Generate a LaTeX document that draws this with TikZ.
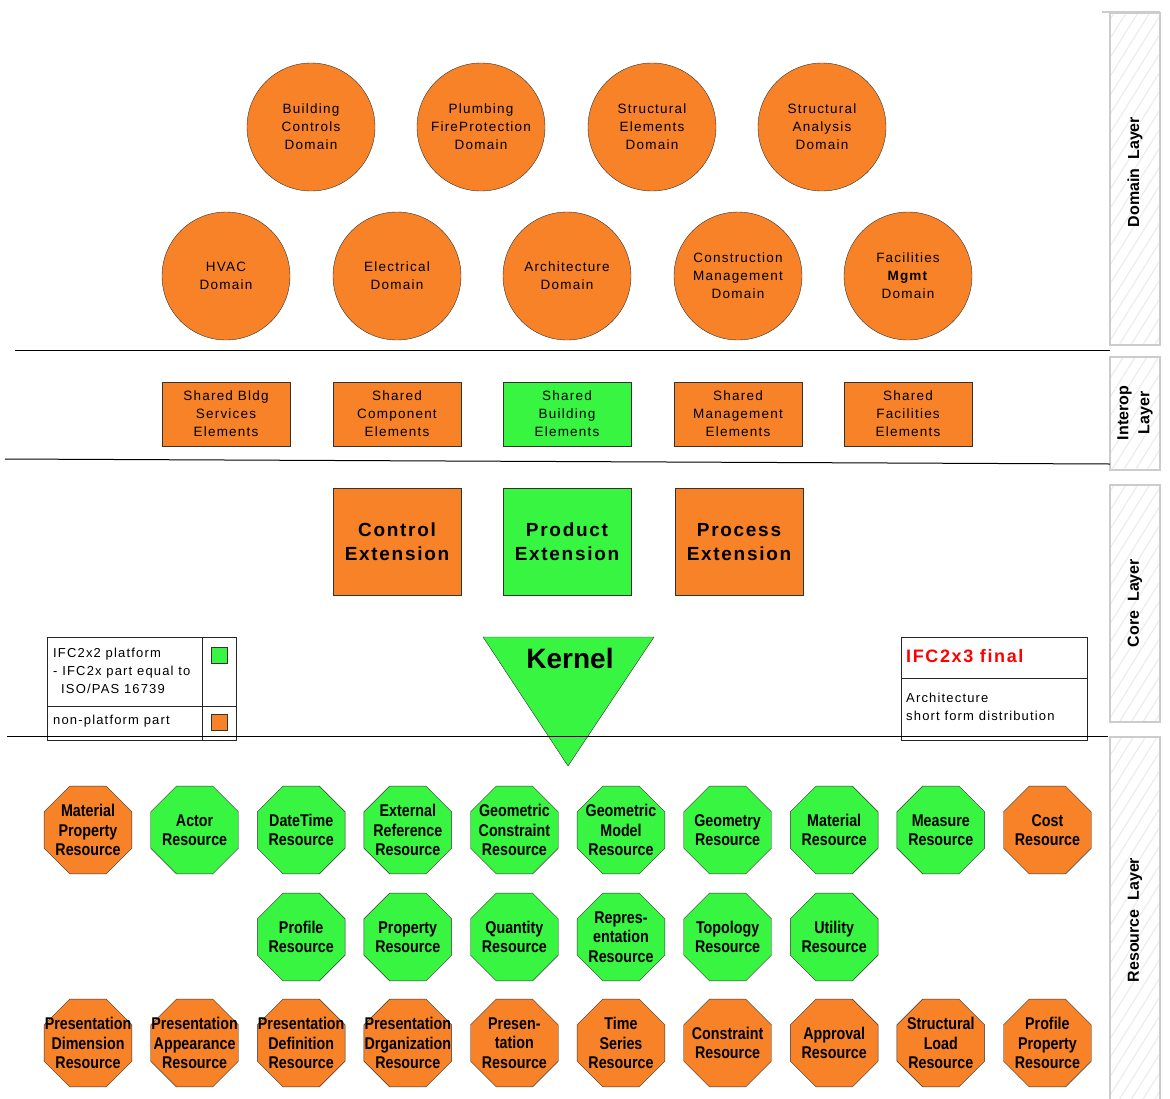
\documentclass[tikz,border=0pt]{standalone}
\usepackage{fontspec}
\setmainfont{Liberation Sans}
\newfontfamily\spacedfont[LetterSpace=9]{Liberation Sans}
\newfontfamily\narrowfont[FakeStretch=0.84]{Liberation Sans}
\usetikzlibrary{shapes.geometric,patterns.meta}

\definecolor{ifcorange}{RGB}{248,130,40}
\definecolor{ifcgreen}{RGB}{55,245,65}

\tikzset{
    domaincircle/.style={circle, draw=black!80, fill=ifcorange, minimum size=128pt, inner sep=0pt,
        align=center, font=\spacedfont\fontsize{13.5}{18}\selectfont},
    sharedbox/.style={rectangle, draw=black!80, minimum width=128pt, minimum height=64pt, inner sep=0pt,
        align=center, font=\spacedfont\fontsize{13.5}{18}\selectfont},
    extbox/.style={rectangle, draw=black!80, minimum width=128pt, minimum height=107pt, inner sep=0pt,
        align=center, font=\spacedfont\bfseries\fontsize{19}{24}\selectfont},
    resoct/.style={regular polygon, regular polygon sides=8, draw=black!80, minimum size=95pt,
        inner sep=-14pt, align=center, font=\narrowfont\bfseries\fontsize{17}{19.5}\selectfont},
    layerbox/.style={draw=gray!40, line width=1.5pt, pattern={Lines[angle=58,distance=10pt,line width=1.2pt]},
        pattern color=gray!15},
    layerlabel/.style={rotate=90, align=center, font=\bfseries\fontsize{16}{21}\selectfont},
    legendtxt/.style={anchor=west, align=left, inner sep=0pt, font=\spacedfont\fontsize{13}{18}\selectfont},
    swatch/.style={draw=black!80, minimum size=16pt, inner sep=0pt},
    divider/.style={black, line width=1pt}
}

\begin{document}
\begin{tikzpicture}[x=1pt,y=-1pt]
    \useasboundingbox (0,0) rectangle (1170,1098);

    % layer panels on the right side
    \draw[gray!40, line width=1.5pt] (1102,12) -- (1160,12);
    \draw[layerbox] (1110,13) rectangle (1160,345);
    \draw[layerbox] (1110,357) rectangle (1160,470);
    \draw[layerbox] (1110,485) rectangle (1160,722);
    \draw[layerbox] (1110,737) rectangle (1160,1110);
    \node[layerlabel] (domainlayer) at (1135,172) {Domain~~Layer};
    \node[layerlabel] (interoplayer) at (1135,413) {Interop\\Layer};
    \node[layerlabel] (corelayer) at (1135,603) {Core~~Layer};
    \node[layerlabel] (resourcelayer) at (1135,920) {Resource~~Layer};

    % domain layer
    \foreach \x/\y/\name/\txt in {311/127/bldgctrl/{Building\\Controls\\Domain},
        481/127/plumbing/{Plumbing\\FireProtection\\Domain},
        652/127/structelem/{Structural\\Elements\\Domain},
        822/127/structanalysis/{Structural\\Analysis\\Domain},
        226/276/hvac/{HVAC\\Domain},
        397/276/electrical/{Electrical\\Domain},
        567/276/architecture/{Architecture\\Domain},
        738/276/constrmgmt/{Construction\\Management\\Domain},
        908/276/facilities/{Facilities\\\textbf{Mgmt}\\Domain}}
    {
        \node[domaincircle] (\name) at (\x,\y) {\txt};
    }

    % interop layer
    \foreach \x/\name/\col/\txt in {226/sharedbldgsrv/ifcorange/{Shared Bldg\\Services\\Elements},
        397/sharedcomp/ifcorange/{Shared\\Component\\Elements},
        567/sharedbldg/ifcgreen/{Shared\\Building\\Elements},
        738/sharedmgmt/ifcorange/{Shared\\Management\\Elements},
        908/sharedfac/ifcorange/{Shared\\Facilities\\Elements}}
    {
        \node[sharedbox, fill=\col] (\name) at (\x,414) {\txt};
    }

    % core layer
    \node[extbox, fill=ifcorange] (controlext) at (397,542) {Control\\Extension};
    \node[extbox, fill=ifcgreen] (productext) at (567,542) {Product\\Extension};
    \node[extbox, fill=ifcorange] (processext) at (739,542) {Process\\Extension};

    \filldraw[fill=ifcgreen, draw=black!80] (483,637) -- (654,637) -- (568,766) -- cycle;
    \node[font=\bfseries\fontsize{28}{30}\selectfont] (kernel) at (570,658) {Kernel};

    % legend
    \draw[black!85] (47,637) rectangle (236,740);
    \draw[black!85] (202,637) -- (202,740);
    \draw[black!85] (47,706) -- (236,706);
    \node[legendtxt] (platformtxt) at (53,671) {IFC2x2 platform\\- IFC2x part equal to\\\hspace*{8pt}ISO/PAS 16739};
    \node[legendtxt] (nonplatformtxt) at (53,721) {non-platform part};
    \node[swatch, fill=ifcgreen] (greenkey) at (219,655) {};
    \node[swatch, fill=ifcorange] (orangekey) at (219,722) {};

    % release box
    \draw[black!85] (901,637) rectangle (1087,740);
    \draw[black!85] (901,678) -- (1087,678);
    \node[legendtxt, text=red, font=\spacedfont\bfseries\fontsize{18}{20}\selectfont] (release) at (906,656) {IFC2x3 final};
    \node[legendtxt] (distribution) at (906,707) {Architecture\\short form distribution};

    % layer dividers
    \draw[divider] (15,350) -- (1110,350);
    \draw[divider] (5,459) -- (1110,464);
    \draw[divider] (7,736) -- (1108,736);

    % resource layer, three rows
    \foreach \i/\name/\col/\txt in {0/matprop/ifcorange/{Material\\Property\\Resource},
        1/actor/ifcgreen/{Actor\\Resource},
        2/datetime/ifcgreen/{DateTime\\Resource},
        3/extref/ifcgreen/{External\\Reference\\Resource},
        4/geomconstr/ifcgreen/{Geometric\\Constraint\\Resource},
        5/geommodel/ifcgreen/{Geometric\\Model\\Resource},
        6/geometry/ifcgreen/{Geometry\\Resource},
        7/material/ifcgreen/{Material\\Resource},
        8/measure/ifcgreen/{Measure\\Resource},
        9/cost/ifcorange/{Cost\\Resource}}
    {
        \node[resoct, fill=\col] (\name) at ({88+106.6*\i},830) {\txt};
    }
    \foreach \i/\name/\txt in {2/profile/{Profile\\Resource},
        3/property/{Property\\Resource},
        4/quantity/{Quantity\\Resource},
        5/representation/{Repres-\\entation\\Resource},
        6/topology/{Topology\\Resource},
        7/utility/{Utility\\Resource}}
    {
        \node[resoct, fill=ifcgreen] (\name) at ({88+106.6*\i},937) {\txt};
    }
    \foreach \i/\name/\txt in {0/presdim/{Presentation\\Dimension\\Resource},
        1/presappear/{Presentation\\Appearance\\Resource},
        2/presdef/{Presentation\\Definition\\Resource},
        3/presorg/{Presentation\\Drganization\\Resource},
        4/presentation/{Presen-\\tation\\Resource},
        5/timeseries/{Time\\Series\\Resource},
        6/constraint/{Constraint\\Resource},
        7/approval/{Approval\\Resource},
        8/structload/{Structural\\Load\\Resource},
        9/profprop/{Profile\\Property\\Resource}}
    {
        \node[resoct, fill=ifcorange] (\name) at ({88+106.6*\i},1043) {\txt};
    }

\end{tikzpicture}
\end{document}
